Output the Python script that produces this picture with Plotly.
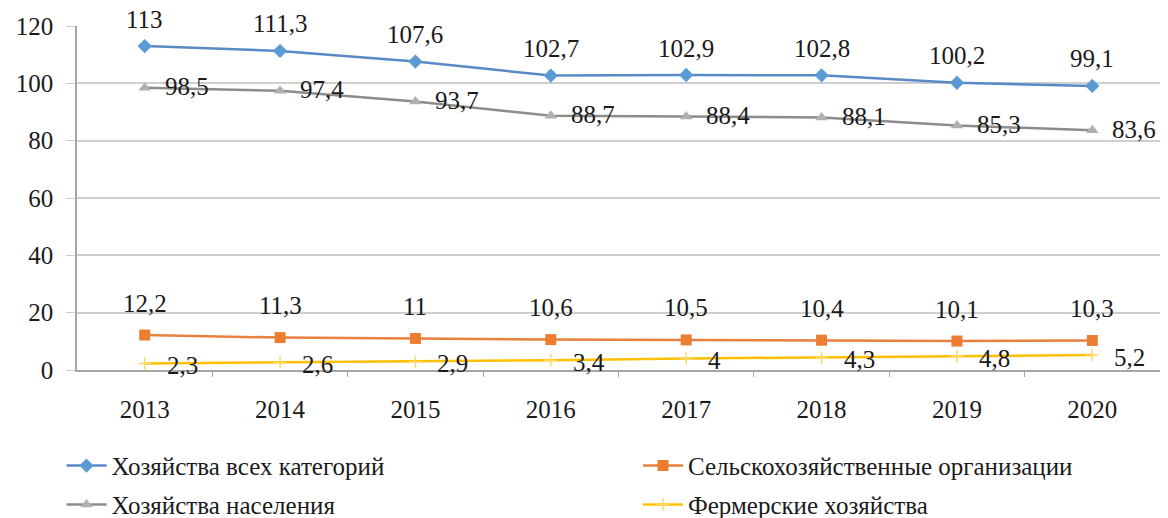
import plotly.graph_objects as go

years = ["2013", "2014", "2015", "2016", "2017", "2018", "2019", "2020"]
all_farms = [113, 111.3, 107.6, 102.7, 102.9, 102.8, 100.2, 99.1]
agri_orgs = [12.2, 11.3, 11, 10.6, 10.5, 10.4, 10.1, 10.3]
households = [98.5, 97.4, 93.7, 88.7, 88.4, 88.1, 85.3, 83.6]
farmers = [2.3, 2.6, 2.9, 3.4, 4, 4.3, 4.8, 5.2]

names = ["Хозяйства всех категорий", "Сельскохозяйственные организации",
         "Хозяйства населения", "Фермерские хозяйства"]

FONT = "Liberation Serif"
FS = 25
TXT = "#1a1a1a"


def fmt(v):
    return ("%g" % v).replace(".", ",")


idx = list(range(len(years)))

fig = go.Figure()

fig.add_trace(go.Scatter(x=idx, y=all_farms, name=names[0], mode="lines+markers",
                         line=dict(color="#5a8ac6", width=2.5),
                         marker=dict(symbol="diamond", size=11, color="#5b9bd5"),
                         legend="legend"))
fig.add_trace(go.Scatter(x=idx, y=agri_orgs, name=names[1], mode="lines+markers",
                         line=dict(color="#e8803f", width=2.5),
                         marker=dict(symbol="square", size=11, color="#ed7d31"),
                         legend="legend2"))
fig.add_trace(go.Scatter(x=idx, y=households, name=names[2], mode="lines+markers",
                         line=dict(color="#8c8c8c", width=2.5),
                         marker=dict(symbol="triangle-up", size=11, color="#b0b0b0"),
                         legend="legend3"))
fig.add_trace(go.Scatter(x=idx, y=farmers, name=names[3], mode="lines+markers",
                         line=dict(color="#ffc000", width=2.5),
                         marker=dict(symbol="cross-thin", size=9,
                                     line=dict(color="#ffd966", width=1.5)),
                         legend="legend4"))

for i, v in zip(idx, all_farms):
    fig.add_annotation(x=i, y=v, text=fmt(v), showarrow=False, yshift=27)
for i, v in zip(idx, agri_orgs):
    fig.add_annotation(x=i, y=v, text=fmt(v), showarrow=False, yshift=32)
for i, v in zip(idx, households):
    fig.add_annotation(x=i, y=v, text=fmt(v), showarrow=False, xanchor="left",
                       xshift=18, yshift=1)
for i, v in zip(idx, farmers):
    fig.add_annotation(x=i, y=v, text=fmt(v), showarrow=False, xanchor="left",
                       xshift=20, yshift=-2)

row1 = -0.2787
row2 = -0.3918
col1 = -0.0143
col2 = 0.518


def leg(x, y):
    return dict(orientation="h", xanchor="left", yanchor="middle", itemwidth=40,
                x=x, y=y, bgcolor="rgba(0,0,0,0)")


fig.update_layout(
    width=1168, height=518,
    margin=dict(l=69, r=16, t=18, b=156, autoexpand=False),
    paper_bgcolor="white", plot_bgcolor="white",
    font=dict(family=FONT, size=FS, color=TXT),
    showlegend=True,
    legend=leg(col1, row1),
    legend2=leg(col2, row1),
    legend3=leg(col1, row2),
    legend4=leg(col2, row2),
)

fig.update_xaxes(range=[-0.5, len(years) - 0.5], tickmode="array", tickvals=idx,
                 ticktext=years, showgrid=False, showline=True, linecolor="#a6a6a6",
                 linewidth=1.5, ticks="", zeroline=False,
                 ticklabelstandoff=16,
                 minor=dict(tickmode="array", tickvals=[i + 0.5 for i in idx[:-1]],
                            ticks="outside", ticklen=5, tickcolor="#a6a6a6"))
fig.update_yaxes(range=[0, 120], dtick=20, showgrid=True, gridcolor="#cfcfcf",
                 gridwidth=1.5, showline=True, linecolor="#a6a6a6", linewidth=1.5,
                 zeroline=False, ticks="outside", ticklen=9, tickcolor="#cfcfcf",
                 ticklabelstandoff=8)

fig.write_html("out.html")
